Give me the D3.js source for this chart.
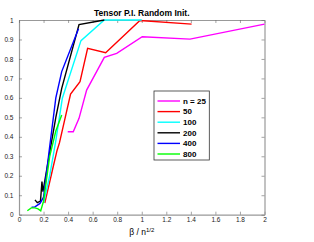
<!DOCTYPE html>
<html><head><meta charset="utf-8">
<script src="https://cdn.jsdelivr.net/npm/d3@7"></script>
<style>
body{margin:0;background:#fff;}
text{font-family:"Liberation Sans",Arial,sans-serif;}
</style></head>
<body><svg id="c" width="314" height="242"></svg>
<script>
const seriesNames = ["n = 25","50","100","200","400","800"];
const seriesColors = ["#ff00ff","#ff0000","#00ffff","#000000","#0000ff","#00ff00"];
const xTicks = [0,0.2,0.4,0.6,0.8,1,1.2,1.4,1.6,1.8,2];
const yTicks = [0,0.1,0.2,0.3,0.4,0.5,0.6,0.7,0.8,0.9,1];
const n25 = [[0.397,0.426],[0.442,0.426],[0.489,0.495],[0.551,0.64],[0.695,0.808],[0.796,0.829],[1.004,0.914],[1.393,0.902],[2.0,0.979]];
const n50 = [[0.21,0.06],[0.28,0.25],[0.31,0.33],[0.33,0.37],[0.42,0.62],[0.497,0.683],[0.559,0.855],[0.706,0.832],[0.985,0.997],[1.406,0.979]];
const n100 = [[0.2,0.06],[0.25,0.2],[0.3,0.38],[0.353,0.598],[0.505,0.894],[0.695,1.0],[1.0,1.0]];
const n200 = [[0.13,0.076],[0.149,0.062],[0.175,0.07],[0.187,0.17],[0.195,0.118],[0.25,0.32],[0.3,0.5],[0.348,0.649],[0.489,0.976],[0.695,1.0]];
const n400 = [[0.103,0.038],[0.13,0.04],[0.171,0.058],[0.2,0.09],[0.25,0.35],[0.3,0.6],[0.348,0.735],[0.485,0.955]];
const n800 = [[0.068,0.02],[0.1,0.035],[0.13,0.035],[0.155,0.03],[0.177,0.02],[0.2,0.07],[0.25,0.3],[0.3,0.43],[0.348,0.512]];
const allSeries = [n25,n50,n100,n200,n400,n800];

const svg = d3.select("#c");
const L=19, R=264.5, T=20, B=214.7;
const x = d3.scaleLinear().domain([0,2]).range([L,R]);
const y = d3.scaleLinear().domain([0,1]).range([B,T]);

svg.append("rect").attr("x",L).attr("y",T).attr("width",R-L).attr("height",B-T).attr("fill","#fff");

const tickLen=3;
const axisB = d3.axisBottom(x).tickValues(xTicks).tickFormat(d=>d3.format("")(d)).tickSizeInner(-tickLen).tickSizeOuter(0).tickPadding(3);
const axisL = d3.axisLeft(y).tickValues(yTicks).tickFormat(d=>d3.format("")(d)).tickSizeInner(-tickLen).tickSizeOuter(0).tickPadding(5.5);
const axisT = d3.axisTop(x).tickValues(xTicks).tickFormat("").tickSizeInner(-tickLen).tickSizeOuter(0);
const axisR = d3.axisRight(y).tickValues(yTicks).tickFormat("").tickSizeInner(-tickLen).tickSizeOuter(0);
const ax = [
 svg.append("g").attr("transform",`translate(0,${B})`).call(axisB),
 svg.append("g").attr("transform",`translate(${L},0)`).call(axisL),
 svg.append("g").attr("transform",`translate(0,${T})`).call(axisT),
 svg.append("g").attr("transform",`translate(${R},0)`).call(axisR)
];
ax.forEach(g=>{
  g.select(".domain").attr("stroke","#999").attr("stroke-width",1.2);
  g.selectAll(".tick line").attr("stroke","#666").attr("stroke-width",0.6);
  g.selectAll(".tick text").attr("font-size",6.5).attr("fill","#222").attr("font-family","Liberation Sans, Arial, sans-serif");
});

const line = d3.line().x(d=>x(d[0])).y(d=>y(d[1]));
allSeries.forEach((s,i)=>{
  svg.append("path").datum(s).attr("d",line).attr("fill","none")
    .attr("stroke",seriesColors[i]).attr("stroke-width",1.4).attr("stroke-linejoin","miter");
});

svg.append("text").attr("x",(L+R)/2).attr("y",15.7).attr("text-anchor","middle")
  .attr("font-size",8.5).attr("font-weight","bold").attr("fill","#000").text("Tensor P.I. Random Init.");

const xl = svg.append("text").attr("x",(L+R)/2).attr("y",235).attr("text-anchor","middle")
  .attr("font-size",8.5).attr("fill","#000");
xl.append("tspan").text("β / n");
xl.append("tspan").attr("dy",-3.5).attr("font-size",6).text("1/2");

const lg = svg.append("g");
lg.append("rect").attr("x",154).attr("y",91).attr("width",55.3).attr("height",69)
  .attr("fill","#fff").attr("stroke","#333").attr("stroke-width",0.8);
seriesNames.forEach((nm,i)=>{
  const yy = 101 + i*10.6;
  lg.append("line").attr("x1",157.5).attr("x2",180).attr("y1",yy).attr("y2",yy)
    .attr("stroke",seriesColors[i]).attr("stroke-width",1.4);
  lg.append("text").attr("x",183).attr("y",yy+2.8).attr("font-size",8).attr("font-weight","bold")
    .attr("fill","#000").text(nm);
});
</script></body></html>
